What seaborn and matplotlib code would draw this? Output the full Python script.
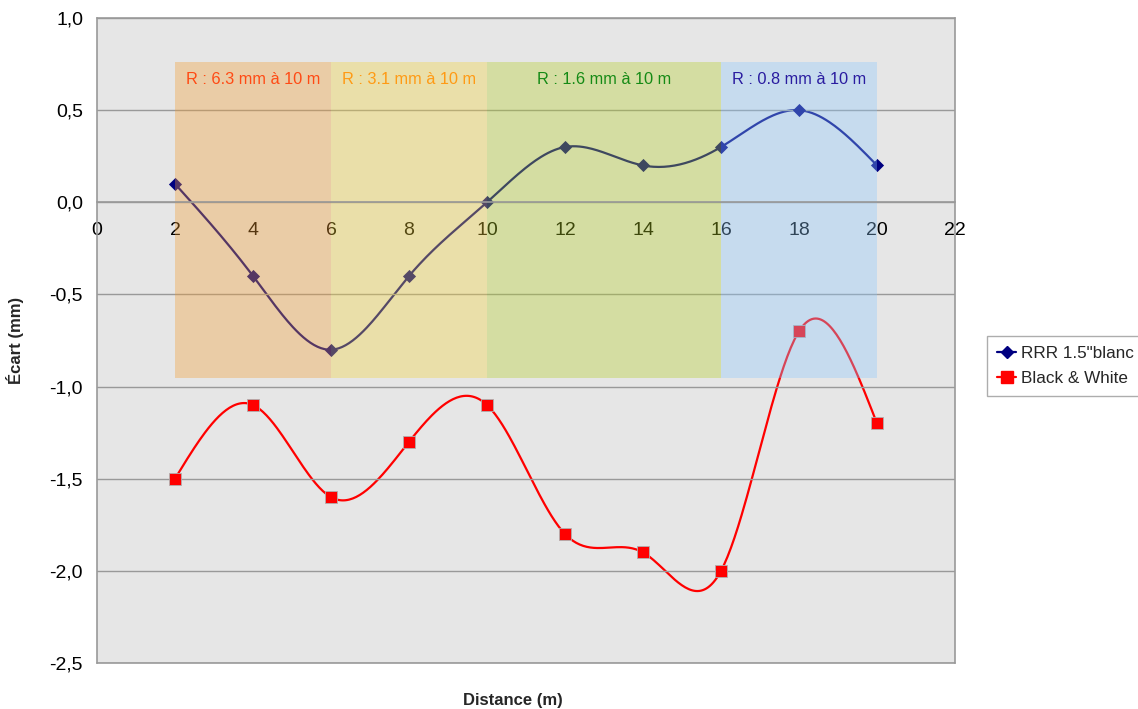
import numpy as np
import pandas as pd
import matplotlib
matplotlib.use("Agg")
import matplotlib.pyplot as plt
from matplotlib.lines import Line2D
import seaborn as sns

# Data
distance = [2, 4, 6, 8, 10, 12, 14, 16, 18, 20]
rrr_blanc = [0.1, -0.4, -0.8, -0.4, 0.0, 0.3, 0.2, 0.3, 0.5, 0.2]
black_white = [-1.5, -1.1, -1.6, -1.3, -1.1, -1.8, -1.9, -2.0, -0.7, -1.2]

band_starts = [2, 6, 10, 16]
band_ends = [6, 10, 16, 20]
band_labels = ["R : 6.3 mm à 10 m", "R : 3.1 mm à 10 m", "R : 1.6 mm à 10 m", "R : 0.8 mm à 10 m"]
band_colors = ["#f49c2f", "#f4d238", "#b3cf24", "#8bc7fd"]
label_colors = ["#ff4a14", "#ff9a14", "#158a15", "#2a1ca0"]


def natural_spline(x, y, n=400):
    # natural cubic spline, like the "cubic spline" smoothing of office charts
    x = np.asarray(x, float)
    y = np.asarray(y, float)
    k = len(x)
    h = np.diff(x)
    A = np.zeros((k, k))
    b = np.zeros(k)
    A[0, 0] = A[-1, -1] = 1
    for i in range(1, k - 1):
        A[i, i - 1] = h[i - 1]
        A[i, i] = 2 * (h[i - 1] + h[i])
        A[i, i + 1] = h[i]
        b[i] = 6 * ((y[i + 1] - y[i]) / h[i] - (y[i] - y[i - 1]) / h[i - 1])
    m = np.linalg.solve(A, b)
    xs = np.linspace(x[0], x[-1], n)
    idx = np.clip(np.searchsorted(x, xs) - 1, 0, k - 2)
    t0 = x[idx]
    t1 = x[idx + 1]
    hh = t1 - t0
    ys = (m[idx] * (t1 - xs) ** 3 / (6 * hh) + m[idx + 1] * (xs - t0) ** 3 / (6 * hh)
          + (y[idx] / hh - m[idx] * hh / 6) * (t1 - xs)
          + (y[idx + 1] / hh - m[idx + 1] * hh / 6) * (xs - t0))
    return xs, ys


sns.set_style("white")
plt.rcParams['font.family'] = ['Liberation Sans', 'DejaVu Sans']

fig = plt.figure(figsize=(11.38, 7.09), dpi=100)
ax = fig.add_axes([97 / 1138, 46 / 709, 858 / 1138, 645 / 709])
ax.set_facecolor("#e6e6e6")

xs_b, ys_b = natural_spline(distance, rrr_blanc)
xs_r, ys_r = natural_spline(distance, black_white)
curves = pd.DataFrame({
    "x": np.concatenate([xs_b, xs_r]),
    "y": np.concatenate([ys_b, ys_r]),
    "serie": ["RRR 1.5\"blanc"] * len(xs_b) + ["Black & White"] * len(xs_r),
})
points = pd.DataFrame({"x": distance + distance, "y": rrr_blanc + black_white,
                       "serie": ["RRR 1.5\"blanc"] * 10 + ["Black & White"] * 10})

sns.lineplot(data=curves[curves.serie != "Black & White"], x="x", y="y", color="#000080",
             linewidth=1.6, sort=False, ax=ax, zorder=2, legend=False)
sns.lineplot(data=curves[curves.serie == "Black & White"], x="x", y="y", color="#ff0000",
             linewidth=1.6, sort=False, ax=ax, zorder=2, legend=False)
sns.scatterplot(data=points[points.serie != "Black & White"], x="x", y="y", marker="D",
                color="#000080", s=45, linewidth=0, ax=ax, zorder=3, legend=False)
sns.scatterplot(data=points[points.serie == "Black & White"], x="x", y="y", marker="s",
                color="#ff0000", s=75, edgecolor="#b0b0b0", linewidth=0.6, ax=ax, zorder=3, legend=False)

# translucent bands drawn over the curves
for x0, x1, lab, c, tc in zip(band_starts, band_ends, band_labels, band_colors, label_colors):
    ax.fill_between([x0, x1], -0.955, 0.76, color=c, alpha=0.35, linewidth=0, zorder=4)
    ax.text((x0 + x1) / 2, 0.665, lab, color=tc, fontsize=11.8, ha="center", va="center", zorder=6)

ax.set_xlim(0, 22)
ax.set_ylim(-2.5, 1.0)
ax.set_xticks(range(0, 23, 2))
ax.set_yticks(np.arange(-2.5, 1.01, 0.5))
ax.set_yticklabels([f"{v:.1f}".replace(".", ",") for v in np.arange(-2.5, 1.01, 0.5)])
ax.grid(axis="y", color="#999999", linewidth=1, zorder=5)
ax.set_axisbelow(False)
for gl in ax.get_ygridlines():
    gl.set_zorder(5)
for yb in [-2.5, 1.0]:
    ax.axhline(yb, color="#999999", linewidth=1.2, clip_on=False, zorder=5)

ax.spines["bottom"].set_position(("data", 0))
for s in ["left", "right", "bottom", "top"]:
    ax.spines[s].set_color("#999999")
    ax.spines[s].set_linewidth(1.2)
    ax.spines[s].set_zorder(5)
ax.spines["top"].set_visible(False)
ax.tick_params(axis="both", direction="out", length=5, color="#999999", labelsize=14, labelcolor="black")
ax.tick_params(axis="x", pad=9)
ax.tick_params(axis="y", pad=5)

ax.set_xlabel("")
ax.set_ylabel("")
fig.text(15 / 1138, (709 - 340) / 709, "Écart (mm)", rotation=90, fontsize=12, fontweight="bold",
         ha="center", va="center")
fig.text(513 / 1138, (709 - 700) / 709, "Distance (m)", fontsize=12, fontweight="bold",
         ha="center", va="center")

handles = [
    Line2D([], [], color="#000080", marker="D", markersize=6, linewidth=1.6, label="RRR 1.5\"blanc"),
    Line2D([], [], color="#ff0000", marker="s", markersize=8, linewidth=1.6, label="Black & White"),
]
leg = fig.legend(handles=handles, loc="center left", bbox_to_anchor=(987 / 1138, (709 - 366) / 709),
                 frameon=True, fancybox=False, fontsize=12.3, handlelength=1.1, handletextpad=0.3,
                 borderaxespad=0, borderpad=0.6, labelspacing=0.6)
leg.get_frame().set_edgecolor("#999999")
leg.get_frame().set_linewidth(1)

fig.savefig("out.png", dpi=100)
